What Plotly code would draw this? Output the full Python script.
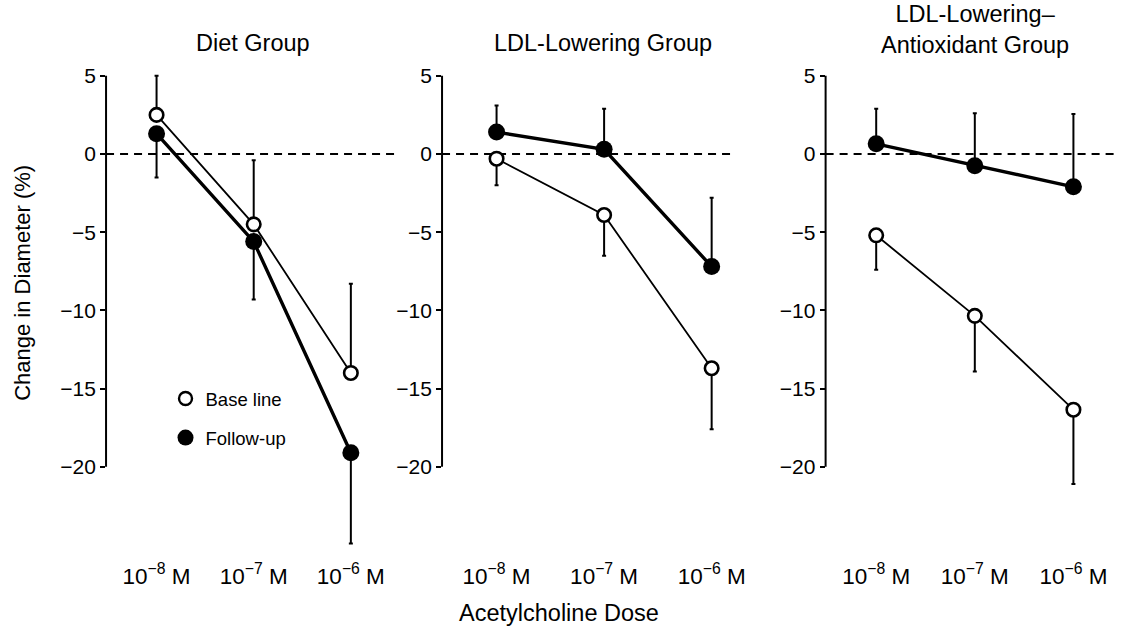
import plotly.graph_objects as go

W, H = 1127, 628

# ---------------- data ----------------
doses = ["10<sup>−8</sup> M", "10<sup>−7</sup> M", "10<sup>−6</sup> M"]
dose_idx = [0, 1, 2]

groups = ["Diet Group", "LDL-Lowering Group", "LDL-Lowering–<br>Antioxidant Group"]

diet_base = [2.5, -4.5, -14.0]
diet_base_up = [2.5, 4.1, 5.7]
diet_base_dn = [0, 0, 0]
diet_follow = [1.3, -5.6, -19.1]
diet_follow_up = [0, 0, 0]
diet_follow_dn = [2.8, 3.7, 5.8]

ldl_base = [-0.3, -3.9, -13.7]
ldl_base_up = [0, 0, 0]
ldl_base_dn = [1.7, 2.6, 3.9]
ldl_follow = [1.4, 0.3, -7.2]
ldl_follow_up = [1.7, 2.6, 4.4]
ldl_follow_dn = [0, 0, 0]

anti_base = [-5.2, -10.35, -16.35]
anti_base_up = [0, 0, 0]
anti_base_dn = [2.2, 3.55, 4.75]
anti_follow = [0.65, -0.75, -2.1]
anti_follow_up = [2.25, 3.35, 4.65]
anti_follow_dn = [0, 0, 0]

y_ticks = [5, 0, -5, -10, -15, -20]
y_ticktext = ["5", "0", "−5", "−10", "−15", "−20"]

panels = [
    (diet_base, diet_base_up, diet_base_dn, diet_follow, diet_follow_up, diet_follow_dn),
    (ldl_base, ldl_base_up, ldl_base_dn, ldl_follow, ldl_follow_up, ldl_follow_dn),
    (anti_base, anti_base_up, anti_base_dn, anti_follow, anti_follow_up, anti_follow_dn),
]

# ---------------- layout geometry (pixels) ----------------
def px(x):
    return x / W

def py(y):
    return 1 - y / H

x_dom_px = [(107, 403), (446, 742), (833, 1127)]
x_ranges = [(-0.520, 2.5), (-0.507, 2.221), (-0.513, 2.442)]
y_dom = [py(560), py(60)]
y_range = [-25.96, 6.01]
title_x_px = [255, 608, 984]

FONT = "Liberation Sans, Arial, Helvetica, sans-serif"

fig = go.Figure()

for k, (b, bu, bd, f, fu, fd) in enumerate(panels):
    xa = "x" if k == 0 else f"x{k+1}"
    ya = "y" if k == 0 else f"y{k+1}"
    fig.add_trace(go.Scatter(
        x=dose_idx, y=b, xaxis=xa, yaxis=ya, mode="lines+markers",
        line=dict(color="black", width=1.8),
        marker=dict(symbol="circle", size=13.5, color="white",
                    line=dict(color="black", width=2.6)),
        error_y=dict(type="data", symmetric=False, array=bu, arrayminus=bd,
                     color="black", thickness=2, width=2),
        showlegend=False, hoverinfo="skip"))
    fig.add_trace(go.Scatter(
        x=dose_idx, y=f, xaxis=xa, yaxis=ya, mode="lines+markers",
        line=dict(color="black", width=3.4),
        marker=dict(symbol="circle", size=17, color="black",
                    line=dict(color="black", width=0)),
        error_y=dict(type="data", symmetric=False, array=fu, arrayminus=fd,
                     color="black", thickness=2, width=2),
        showlegend=False, hoverinfo="skip"))

# legend entries
fig.add_trace(go.Scatter(x=[None], y=[None], mode="markers", name="Base line",
                         marker=dict(symbol="circle", size=13, color="white",
                                     line=dict(color="black", width=2.4)),
                         legendgroup="a"))
fig.add_trace(go.Scatter(x=[None], y=[None], mode="markers", name="Follow-up",
                         marker=dict(symbol="circle", size=16, color="black"),
                         legendgroup="b"))

layout = dict(
    width=W, height=H, autosize=False,
    margin=dict(l=0, r=0, t=0, b=0, pad=0),
    paper_bgcolor="white", plot_bgcolor="white",
    font=dict(family=FONT, color="black", size=18),
    showlegend=True,
    legend=dict(x=px(167), y=py(380), xanchor="left", yanchor="top",
                bgcolor="rgba(0,0,0,0)", tracegroupgap=12,
                font=dict(size=18.5, family=FONT)),
)

shapes = []
annotations = []
for k in range(3):
    xs = "" if k == 0 else str(k + 1)
    layout[f"xaxis{xs}"] = dict(
        domain=[px(x_dom_px[k][0]), px(x_dom_px[k][1])],
        range=list(x_ranges[k]), anchor=f"y{xs}",
        tickmode="array", tickvals=dose_idx, ticktext=doses,
        ticks="", showline=False, showgrid=False, zeroline=False,
        tickfont=dict(size=22.5, family=FONT), fixedrange=True)
    layout[f"yaxis{xs}"] = dict(
        domain=y_dom, range=y_range, anchor=f"x{xs}",
        tickmode="array", tickvals=y_ticks, ticktext=y_ticktext,
        ticks="outside", ticklen=5, tickwidth=2, tickcolor="black",
        showline=False, showgrid=False, zeroline=False,
        tickfont=dict(size=21, family=FONT), fixedrange=True)
    shapes.append(dict(type="line", xref=f"x{xs} domain", yref=f"y{xs}",
                       x0=0, x1=0, y0=-20, y1=5,
                       line=dict(color="black", width=2), layer="below"))
    shapes.append(dict(type="line", xref=f"x{xs} domain", yref=f"y{xs}",
                       x0=0, x1=1, y0=0, y1=0,
                       line=dict(color="black", width=1.8, dash="8px,6px"),
                       layer="below"))
    annotations.append(dict(text=groups[k], x=px(title_x_px[k]), y=py(43),
                            xref="paper", yref="paper", xanchor="center",
                            yanchor="middle",
                            showarrow=False, font=dict(size=23.5, family=FONT)))

# two-line title: second line centred at y~45, first at y~17
annotations[2]["y"] = py(30)

annotations.append(dict(text="Change in Diameter (%)", x=px(22), y=py(283),
                        xref="paper", yref="paper", textangle=-90,
                        xanchor="center", yanchor="middle",
                        showarrow=False, font=dict(size=22, family=FONT)))
annotations.append(dict(text="Acetylcholine Dose", x=px(564), y=py(613),
                        xref="paper", yref="paper", showarrow=False,
                        xanchor="center", yanchor="middle",
                        font=dict(size=23.5, family=FONT)))

layout["shapes"] = shapes
layout["annotations"] = annotations
fig.update_layout(**layout)

fig.write_html(
    "out.html",
    config={"displayModeBar": False, "responsive": False},
    post_script=("document.documentElement.style.overflow='hidden';"
                 "document.body.style.margin='0';"
                 "document.body.style.overflow='hidden';"))
